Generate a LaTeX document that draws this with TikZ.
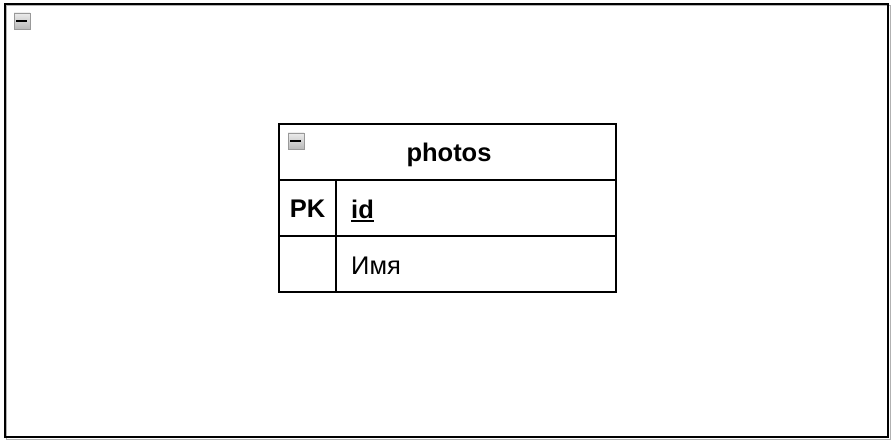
\documentclass[tikz,border=0pt]{standalone}
\usepackage{fontspec}
\setmainfont{Liberation Sans}
\begin{document}
\begin{tikzpicture}[x=1pt,y=-1pt,
  tbl/.style={draw=black,line width=1.6pt},
  cell/.style={inner sep=0pt,font=\fontsize{25.5}{30}\selectfont},
  bcell/.style={inner sep=0pt,font=\fontsize{25.5}{30}\selectfont\bfseries},
  icon/.style={draw=gray!80,line width=0.8pt,top color=gray!15,bottom color=gray!55,minimum size=16pt,inner sep=0pt}]
\useasboundingbox (0,0) rectangle (895,441);
% outer frame
\draw[gray!60,line width=1pt] (6,6) rectangle (890,439);
\draw[black,line width=1.6pt] (5,4) rectangle (888,437);
% frame icon
\node[icon] (ic1) at (22,21) {};
\draw[black,line width=2.2pt] (ic1.west)++(2.5,0) -- ++(11,0);
% table
\draw[tbl] (279,124) rectangle (616,292);
\draw[tbl] (279,180) -- (616,180);
\draw[tbl] (279,236) -- (616,236);
\draw[tbl] (336,180) -- (336,292);
\node[icon] (ic2) at (296,141) {};
\draw[black,line width=2.2pt] (ic2.west)++(2.5,0) -- ++(11,0);
\node[bcell] (title) at (449,154.5) {photos};
\node[bcell] (pk) at (307.5,209) {PK};
\node[bcell,anchor=west] (id) at (351,209) {id};
\draw[line width=1.8pt] ([yshift=-2.5pt]id.south west) -- ([yshift=-2.5pt]id.south east);
\node[cell,anchor=west] (name) at (351,266) {Имя};
\end{tikzpicture}
\end{document}
